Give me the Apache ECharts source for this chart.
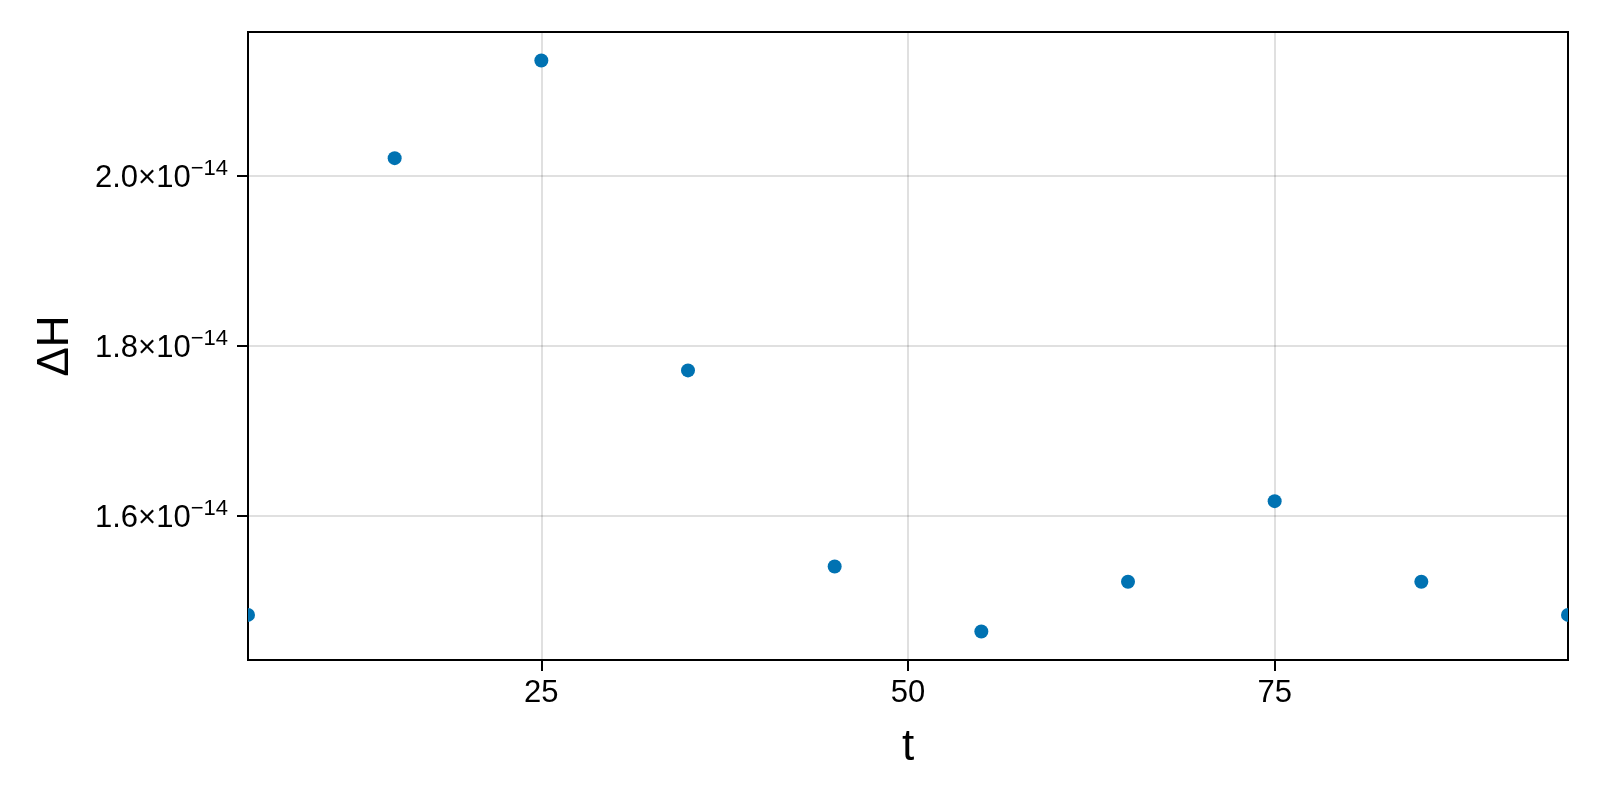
<!DOCTYPE html>
<html>
<head>
<meta charset="utf-8">
<script src="https://cdn.jsdelivr.net/npm/echarts@6/dist/echarts.min.js"></script>
<style>
  html, body { margin: 0; padding: 0; background: #ffffff; }
  #chart { width: 1600px; height: 800px; }
</style>
</head>
<body>
<div id="chart"></div>
<script>
// ---- data ----
const tValues = [5, 15, 25, 35, 45, 55, 65, 75, 85, 95];
const dHValues = [1.483e-14, 2.021e-14, 2.136e-14, 1.771e-14, 1.540e-14, 1.4635e-14, 1.522e-14, 1.617e-14, 1.522e-14, 1.483e-14];
const xTicks = [25, 50, 75];
const yTicks = [1.6e-14, 1.8e-14, 2.0e-14];
const xTitle = 't';
const yTitle = 'ΔH';

// axis limits: data extent with 5% margin (as the original plotting library does)
const yMinData = Math.min.apply(null, dHValues);
const yMaxData = Math.max.apply(null, dHValues);
const yPad = 0.05 * (yMaxData - yMinData);
const yLo = yMinData - yPad;
const yHi = yMaxData + yPad;

const points = tValues.map((t, i) => [t, dHValues[i]]);

const FONT = 'Liberation Sans';
const chart = echarts.init(document.getElementById('chart'), null, { renderer: 'canvas' });

chart.setOption({
  backgroundColor: '#ffffff',
  animation: false,
  grid: {
    left: 248, right: 32, top: 32, bottom: 140,
    containLabel: false,
    show: true,
    borderColor: '#000000',
    borderWidth: 2,
    backgroundColor: 'transparent'
  },
  xAxis: {
    type: 'value',
    min: 5,
    max: 95,
    name: xTitle,
    nameLocation: 'middle',
    nameGap: 66,
    nameTextStyle: { fontFamily: FONT, fontSize: 44, color: '#000000' },
    axisLine: { show: true, onZero: false, lineStyle: { color: '#000000', width: 2 } },
    axisTick: { show: true, inside: false, length: 11, customValues: xTicks, lineStyle: { color: '#000000', width: 2 } },
    axisLabel: {
      customValues: xTicks,
      margin: 18,
      fontFamily: FONT,
      fontSize: 31,
      color: '#000000'
    },
    splitLine: { show: true, lineStyle: { color: 'rgba(0,0,0,0.12)', width: 2 } }
  },
  yAxis: {
    type: 'value',
    min: yLo,
    max: yHi,
    scale: true,
    name: yTitle,
    nameLocation: 'middle',
    nameGap: 170,
    nameRotate: 90,
    nameTextStyle: { fontFamily: FONT, fontSize: 44, color: '#000000' },
    axisLine: { show: true, onZero: false, lineStyle: { color: '#000000', width: 2 } },
    axisTick: { show: true, inside: false, length: 11, customValues: yTicks, lineStyle: { color: '#000000', width: 2 } },
    axisLabel: {
      customValues: yTicks,
      margin: 20,
      formatter: function (v) {
        const m = (v / 1e-14).toFixed(1);
        return '{m|' + m + '×10}{s|−14}';
      },
      rich: {
        m: { fontFamily: FONT, fontSize: 31, color: '#000000', lineHeight: 36, verticalAlign: 'bottom' },
        s: { fontFamily: FONT, fontSize: 22, color: '#000000', lineHeight: 16, verticalAlign: 'top' }
      }
    },
    splitLine: { show: true, lineStyle: { color: 'rgba(0,0,0,0.12)', width: 2 } }
  },
  series: [{
    type: 'custom',
    clip: true,
    data: points,
    encode: { x: 0, y: 1 },
    renderItem: function (params, api) {
      const p = api.coord([api.value(0), api.value(1)]);
      return {
        type: 'circle',
        shape: { cx: p[0], cy: p[1], r: 7 },
        style: { fill: '#0072B2' }
      };
    },
    z: 3
  }]
});
</script>
</body>
</html>
